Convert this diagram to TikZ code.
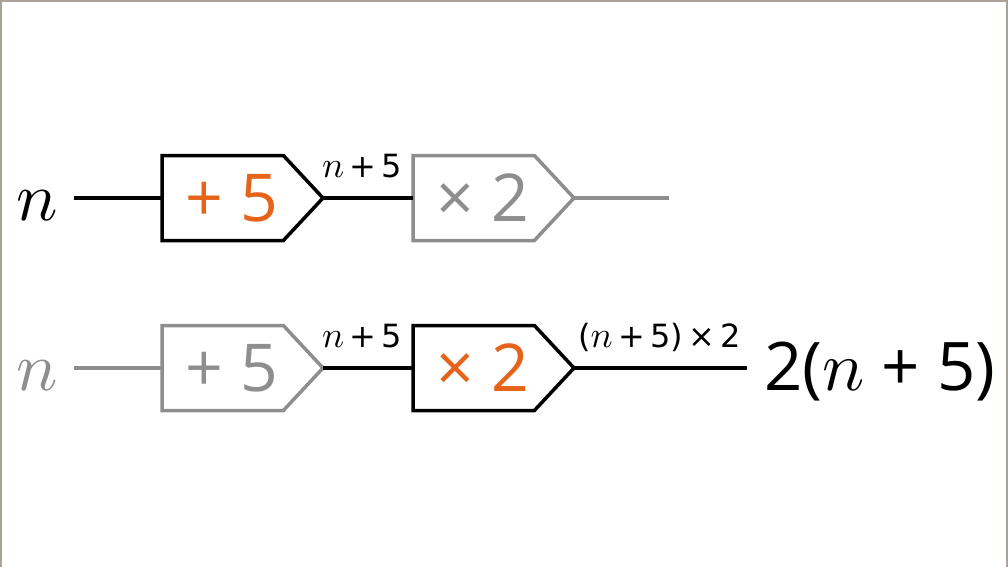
\documentclass[tikz,border=0pt]{standalone}
\usepackage{fontspec}
\setmainfont{Open Sans}
\newfontfamily\lblfont{DejaVu Sans}
\usepackage{graphicx}
\usetikzlibrary{shapes.symbols,positioning}
\DeclareFontShape{OML}{cmm}{m}{it}{<->cmmi10}{}

\definecolor{orng}{RGB}{230,100,25}
\definecolor{dim}{RGB}{142,142,142}
\definecolor{frame}{RGB}{170,163,156}
\newcommand{\nvar}[1][1.15]{\scalebox{#1}{$n$}}

\begin{document}
\begin{tikzpicture}[x=1pt,y=-1pt]
  \tikzstyle{every path}=[line width=3.5pt]

  \tikzstyle{opbox}=[signal,signal to=east,signal pointer angle=94,draw,line width=3.5pt,outer sep=0pt,inner sep=0pt,minimum width=161pt,minimum height=85pt,execute at begin node=\hspace*{18pt},font=\fontsize{66}{66}\selectfont]
  \tikzstyle{var}=[inner xsep=16pt,inner ysep=0pt,outer sep=0pt,font=\fontsize{60}{60}\selectfont]
  \tikzstyle{lbl}=[inner sep=0pt,anchor=base,yshift=21pt,font=\fontsize{32}{32}\lblfont]

  \useasboundingbox (0,0) rectangle (1008,567);
  \draw[frame,line width=1.5pt] (1,567) -- (1,1) -- (1007,1) -- (1007,567);

  % top row
  \node [opbox,text=orng,anchor=west] at (162,198) (add1) {+ 5};
  \node [opbox,dim,right=90pt of add1] (mul1) {× 2};
  \node [var,left=88pt of add1,yshift=-8pt] (n1) {\nvar};
  \coordinate [right=95pt of mul1] (out1);

  \draw (n1.east |- add1.west) -- (add1.west);
  \draw (add1.east) -- node[lbl,xshift=-6pt] (sum1) {\nvar\,+\,5} (mul1.west);
  \draw[dim] (mul1.east) -- (out1);

  % bottom row
  \node [opbox,dim,below=85pt of add1] (add2) {+ 5};
  \node [opbox,text=orng,right=90pt of add2] (mul2) {× 2};
  \node [var,dim,left=88pt of add2,yshift=-8pt] (n2) {\nvar};
  \node [var,inner xsep=17pt,right=173pt of mul2,yshift=-4pt,font=\fontsize{67}{67}\selectfont] (res) {2(\nvar[1.05]{} + 5)};

  \draw[dim] (n2.east |- add2.west) -- (add2.west);
  \draw (add2.east) -- node[lbl,xshift=-6pt] (sum2) {\nvar\,+\,5} (mul2.west);
  \draw (mul2.east) -- node[lbl,xshift=-1pt] (prod) {(\nvar\,+\,5)\,×\,2} (mul2.east -| res.west);
\end{tikzpicture}
\end{document}
